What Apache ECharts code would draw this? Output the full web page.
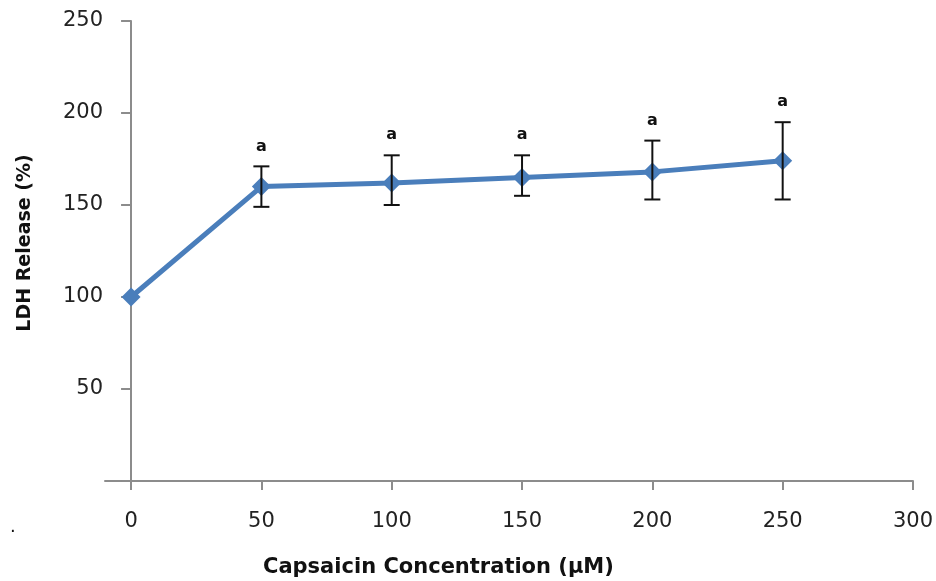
<!DOCTYPE html>
<html>
<head>
<meta charset="utf-8">
<script src="https://cdn.jsdelivr.net/npm/echarts@6/dist/echarts.min.js"></script>
<style>html,body{margin:0;padding:0;background:#fff}#c{width:936px;height:581px}</style>
</head>
<body>
<div id="c"></div>
<script>
const concentrations = [0, 50, 100, 150, 200, 250];
const ldhRelease = [100, 160, 162, 165, 168, 174];
const errUpper = [null, 171, 177, 177, 185, 195];
const errLower = [null, 149, 150, 155, 153, 153];
const sigLetters = ['', 'a', 'a', 'a', 'a', 'a'];
const xTicks = [0, 50, 100, 150, 200, 250, 300];

const chart = echarts.init(document.getElementById('c'));
const font = 'DejaVu Sans, Verdana, sans-serif';

const lineData = concentrations.map((c, i) => [c, ldhRelease[i]]);
const errData = concentrations.map((c, i) => [c, errLower[i], errUpper[i], sigLetters[i]]).filter(d => d[1] != null);

chart.setOption({
  animation: false,
  grid: { left: 105, right: 23, top: 21, bottom: 100, containLabel: false, outerBoundsMode: 'none' },
  title: {
    text: 'Capsaicin Concentration (µM)',
    left: 258, top: 552,
    textStyle: { fontFamily: font, fontWeight: 'bold', fontSize: 21, color: '#111' }
  },
  graphic: [{
    type: 'text', left: 10, top: 518,
    style: { text: '.', fontSize: 18, fill: '#111', fontFamily: font }
  }, {
    type: 'text', x: 25, y: 243, rotation: Math.PI / 2,
    style: { text: 'LDH Release (%)', fontFamily: font, fontWeight: 'bold', fontSize: 19, fill: '#111',
             align: 'center', verticalAlign: 'middle' }
  }],
  xAxis: {
    type: 'value', min: -10, max: 300,
    splitLine: { show: false },
    axisLine: { onZero: false, lineStyle: { color: '#8c8c8c', width: 2 } },
    axisTick: { show: true, customValues: xTicks, length: 9, lineStyle: { color: '#8c8c8c', width: 2 } },
    axisLabel: { customValues: xTicks, margin: 30, fontFamily: font, fontSize: 21, color: '#222' }
  },
  yAxis: {
    type: 'value', min: 0, max: 250, interval: 50,
    splitLine: { show: false },
    axisLine: { show: true, onZero: true, lineStyle: { color: '#8c8c8c', width: 2 } },
    axisTick: { show: true, length: 10, lineStyle: { color: '#8c8c8c', width: 2 } },
    axisLabel: { margin: 2, fontFamily: font, fontSize: 21, color: '#222',
      formatter: v => (v === 0 ? '' : String(v)) }
  },
  series: [
    {
      type: 'line', data: lineData, z: 3,
      symbol: 'diamond', symbolSize: 19,
      lineStyle: { color: '#4a7ebb', width: 5 },
      itemStyle: { color: '#4a7ebb' }
    },
    {
      type: 'custom', z: 4,
      data: errData,
      renderItem: (params, api) => {
        const x = api.value(0);
        const lo = api.coord([x, api.value(1)]);
        const hi = api.coord([x, api.value(2)]);
        const hw = 8;
        const st = { stroke: '#111', lineWidth: 2 };
        return {
          type: 'group',
          children: [
            { type: 'line', shape: { x1: lo[0], y1: lo[1], x2: hi[0], y2: hi[1] }, style: st },
            { type: 'line', shape: { x1: hi[0] - hw, y1: hi[1], x2: hi[0] + hw, y2: hi[1] }, style: st },
            { type: 'line', shape: { x1: lo[0] - hw, y1: lo[1], x2: lo[0] + hw, y2: lo[1] }, style: st },
            { type: 'text', x: hi[0], y: hi[1] - 20,
              style: { text: api.value(3), fontFamily: font, fontWeight: 'bold', fontSize: 16, fill: '#111',
                       align: 'center', verticalAlign: 'middle' } }
          ]
        };
      }
    }
  ]
});
</script>
</body>
</html>
